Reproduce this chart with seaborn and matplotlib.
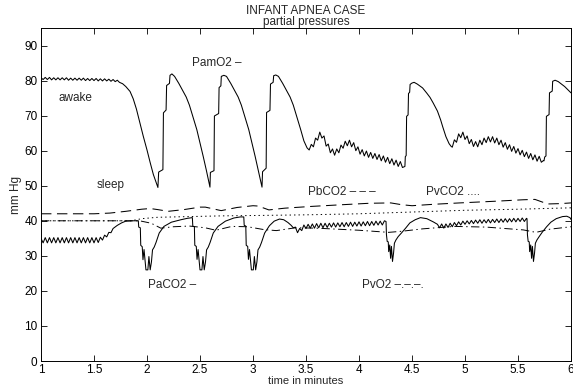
import matplotlib
matplotlib.use("Agg")
import matplotlib.pyplot as plt
import pandas as pd
import seaborn as sns

# ---- data: (time in minutes, pressure in mm Hg) ----
pamo2 = [
    # awake, regular breathing
    (1.00, 80.8), (1.02, 80.3), (1.04, 80.9), (1.06, 80.3), (1.08, 80.9), (1.10, 80.2),
    (1.12, 80.8), (1.14, 80.2), (1.16, 80.8), (1.18, 80.2), (1.20, 80.8), (1.22, 80.2),
    (1.24, 80.8), (1.26, 80.1), (1.28, 80.7), (1.30, 80.1), (1.32, 80.7), (1.34, 80.1),
    (1.36, 80.7), (1.38, 80.1), (1.40, 80.7), (1.42, 80.0), (1.44, 80.6), (1.46, 80.0),
    (1.48, 80.6), (1.50, 80.0), (1.52, 80.6), (1.54, 79.9), (1.56, 80.5), (1.58, 79.9),
    (1.60, 80.5), (1.62, 79.9), (1.64, 80.4), (1.66, 79.8), (1.68, 80.3), (1.70, 79.7),
    (1.72, 80.1), (1.74, 79.5),
    # first apnea
    (1.77, 79.1), (1.80, 78.3), (1.84, 76.9), (1.87, 74.8), (1.90, 71.9), (1.93, 68.3),
    (1.965, 64.1), (2.00, 60.2), (2.03, 56.6), (2.06, 53.2), (2.09, 50.6), (2.103, 49.5),
    (2.110, 53.9), (2.150, 54.6), (2.155, 70.8), (2.180, 71.6), (2.185, 78.6), (2.212, 79.2),
    (2.217, 81.5), (2.235, 81.9),
    (2.26, 81.2), (2.30, 79.2), (2.34, 77.0), (2.37, 75.3), (2.40, 73.0), (2.42, 71.0),
    (2.45, 68.0), (2.47, 66.0), (2.50, 62.2), (2.53, 58.4), (2.56, 54.4), (2.594, 49.6),
    (2.598, 53.8), (2.632, 54.3), (2.636, 69.9), (2.676, 70.6), (2.680, 78.0), (2.697, 78.5),
    (2.701, 81.2), (2.725, 81.5),
    (2.75, 81.2), (2.79, 79.2), (2.83, 77.0), (2.86, 75.3), (2.89, 73.0), (2.91, 71.0),
    (2.94, 68.0), (2.96, 66.0), (2.99, 62.2), (3.02, 58.4), (3.05, 54.4), (3.085, 49.6),
    (3.090, 54.0), (3.124, 55.0), (3.128, 70.9), (3.160, 71.5), (3.165, 79.0), (3.190, 79.5),
    (3.195, 81.4), (3.215, 81.6),
    (3.24, 81.2), (3.28, 79.2), (3.32, 77.0), (3.35, 75.3), (3.38, 73.0), (3.40, 71.0),
    (3.43, 68.0), (3.45, 66.0), (3.48, 62.8), (3.51, 60.8),
    # periodic breathing
    (3.53, 60.2), (3.55, 61.8), (3.57, 61.1), (3.59, 63.6), (3.61, 63.0), (3.63, 65.3),
    (3.65, 63.6), (3.67, 64.2), (3.69, 61.3), (3.71, 61.9), (3.73, 59.4), (3.75, 60.5),
    (3.77, 58.7), (3.79, 60.5), (3.81, 59.4), (3.83, 61.6), (3.85, 60.7), (3.87, 62.7),
    (3.89, 61.4), (3.91, 63.0), (3.93, 61.1), (3.95, 62.3), (3.97, 60.0), (3.99, 61.1),
    (4.01, 59.0), (4.03, 60.3), (4.05, 58.5), (4.07, 59.9), (4.09, 58.1), (4.11, 59.5),
    (4.13, 57.8), (4.15, 59.2), (4.17, 57.5), (4.19, 58.9), (4.21, 57.1), (4.23, 58.5),
    (4.25, 56.7), (4.27, 58.1), (4.29, 56.3), (4.31, 57.7), (4.33, 55.9), (4.35, 57.3),
    (4.37, 55.5), (4.39, 56.9), (4.41, 55.2),
    (4.433, 55.5), (4.437, 58.3), (4.445, 58.6), (4.449, 69.8), (4.463, 70.2), (4.467, 76.3),
    (4.478, 76.7), (4.482, 78.9), (4.50, 79.3), (4.52, 79.5), (4.55, 79.0), (4.60, 77.9),
    (4.64, 76.4), (4.67, 75.2), (4.70, 73.6), (4.74, 71.3), (4.77, 68.8), (4.79, 66.8),
    (4.82, 64.0), (4.85, 62.0), (4.87, 61.2),
    (4.88, 61.0), (4.90, 63.1), (4.92, 62.4), (4.94, 64.8), (4.96, 63.7), (4.98, 65.3),
    (5.00, 63.2), (5.02, 64.2), (5.04, 62.0), (5.06, 63.2), (5.08, 61.2), (5.10, 62.6),
    (5.12, 61.1), (5.14, 63.0), (5.16, 61.7), (5.18, 63.6), (5.20, 62.3), (5.22, 64.0),
    (5.24, 62.5), (5.26, 64.0), (5.28, 62.2), (5.30, 63.6), (5.32, 61.7), (5.34, 63.0),
    (5.36, 61.0), (5.38, 62.3), (5.40, 60.4), (5.42, 61.7), (5.44, 59.8), (5.46, 61.2),
    (5.48, 59.3), (5.50, 60.6), (5.52, 58.8), (5.54, 60.1), (5.56, 58.3), (5.58, 59.6),
    (5.60, 57.8), (5.62, 59.2), (5.64, 57.4), (5.66, 58.8), (5.68, 57.0), (5.70, 58.4),
    (5.72, 56.7), (5.74, 57.2),
    (5.745, 57.1), (5.752, 58.2), (5.764, 58.5), (5.768, 69.8), (5.793, 70.3), (5.797, 76.5),
    (5.823, 77.0), (5.827, 79.8), (5.85, 80.1), (5.88, 79.7), (5.91, 79.0), (5.94, 78.3),
    (5.97, 77.4), (6.00, 76.5),
]

paco2 = [
    (1.00, 35.0), (1.02, 33.7), (1.04, 35.2), (1.06, 33.7), (1.08, 35.2), (1.10, 33.7),
    (1.12, 35.2), (1.14, 33.7), (1.16, 35.2), (1.18, 33.7), (1.20, 35.2), (1.22, 33.7),
    (1.24, 35.2), (1.26, 33.7), (1.28, 35.2), (1.30, 33.7), (1.32, 35.2), (1.34, 33.7),
    (1.36, 35.2), (1.38, 33.7), (1.40, 35.2), (1.42, 33.7), (1.44, 35.2), (1.46, 33.7),
    (1.48, 35.2), (1.50, 33.7), (1.52, 35.2), (1.54, 33.8), (1.56, 35.3), (1.58, 34.5),
    (1.60, 35.9), (1.62, 35.4), (1.64, 36.7), (1.66, 36.6), (1.68, 37.8), (1.72, 38.7),
    (1.76, 39.4), (1.80, 39.9), (1.86, 40.0), (1.918, 40.0),
    (1.922, 38.2), (1.937, 38.0), (1.941, 33.0), (1.955, 32.6), (1.962, 28.9), (1.972, 31.8),
    (1.990, 26.0), (2.008, 26.0), (2.018, 29.8), (2.030, 26.0), (2.042, 28.3), (2.052, 31.7),
    (2.068, 32.5), (2.085, 33.8), (2.115, 36.5), (2.16, 38.4), (2.23, 39.6), (2.32, 40.3),
    (2.38, 40.7), (2.428, 40.9),
    (2.432, 38.5), (2.447, 38.3), (2.451, 33.0), (2.465, 32.7), (2.472, 29.0), (2.482, 31.8),
    (2.500, 26.0), (2.518, 26.0), (2.528, 29.8), (2.540, 26.0), (2.552, 28.3), (2.562, 31.7),
    (2.578, 32.5), (2.595, 33.8), (2.625, 36.5), (2.67, 38.4), (2.74, 39.9), (2.82, 40.8),
    (2.88, 41.1), (2.913, 41.1),
    (2.917, 38.7), (2.932, 38.5), (2.936, 33.0), (2.950, 32.7), (2.957, 29.0), (2.967, 31.8),
    (2.985, 26.0), (3.003, 26.0), (3.013, 29.8), (3.025, 26.0), (3.037, 28.3), (3.047, 31.7),
    (3.063, 32.5), (3.080, 33.8), (3.110, 36.5), (3.155, 38.6), (3.20, 39.9), (3.25, 40.5),
    (3.29, 40.3), (3.33, 39.5), (3.36, 38.7), (3.38, 38.0),
    (3.40, 38.2), (3.42, 36.6), (3.44, 37.8), (3.46, 37.2), (3.48, 38.8), (3.50, 37.8),
    (3.52, 39.0), (3.54, 37.9), (3.56, 39.1), (3.58, 37.9), (3.60, 39.2), (3.62, 38.0),
    (3.64, 39.3), (3.66, 38.0), (3.68, 39.3), (3.70, 38.1), (3.72, 39.3), (3.74, 38.2),
    (3.76, 39.4), (3.78, 38.2), (3.80, 39.4), (3.82, 38.3), (3.84, 39.5), (3.86, 38.3),
    (3.88, 39.5), (3.90, 38.4), (3.92, 39.6), (3.94, 38.4), (3.96, 39.6), (3.98, 38.5),
    (4.00, 39.7), (4.02, 38.5), (4.04, 39.7), (4.06, 38.6), (4.08, 39.8), (4.10, 38.6),
    (4.12, 39.8), (4.14, 38.7), (4.16, 39.9), (4.18, 38.8), (4.20, 39.9), (4.22, 38.8),
    (4.24, 40.0), (4.255, 39.8),
    (4.259, 36.0), (4.266, 34.1), (4.276, 34.0), (4.280, 31.2), (4.290, 33.1), (4.298, 29.3),
    (4.306, 32.7), (4.316, 28.4), (4.326, 30.8), (4.334, 33.6), (4.348, 34.5), (4.37, 35.5),
    (4.40, 36.5), (4.44, 37.9), (4.48, 39.4), (4.53, 40.3), (4.58, 40.9), (4.64, 40.6),
    (4.70, 39.7), (4.74, 39.0),
    (4.76, 38.0), (4.78, 39.1), (4.80, 37.9), (4.82, 39.1), (4.84, 38.1), (4.86, 39.3),
    (4.88, 38.3), (4.90, 39.5), (4.92, 38.6), (4.94, 39.7), (4.96, 38.8), (4.98, 39.9),
    (5.00, 39.0), (5.02, 40.0), (5.04, 39.1), (5.06, 40.1), (5.08, 39.2), (5.10, 40.2),
    (5.12, 39.3), (5.14, 40.3), (5.16, 39.3), (5.18, 40.3), (5.20, 39.4), (5.22, 40.4),
    (5.24, 39.4), (5.26, 40.4), (5.28, 39.5), (5.30, 40.5), (5.32, 39.5), (5.34, 40.5),
    (5.36, 39.6), (5.38, 40.6), (5.40, 39.6), (5.42, 40.6), (5.44, 39.7), (5.46, 40.7),
    (5.48, 39.7), (5.50, 40.7), (5.52, 39.8), (5.54, 40.8), (5.56, 39.8), (5.58, 40.7),
    (5.585, 40.6),
    (5.589, 36.0), (5.596, 34.1), (5.606, 34.0), (5.610, 31.2), (5.620, 33.1), (5.628, 29.3),
    (5.636, 32.7), (5.646, 28.4), (5.656, 30.8), (5.664, 33.6), (5.678, 34.5), (5.70, 35.5),
    (5.73, 36.8), (5.77, 38.3), (5.81, 39.6), (5.86, 40.6), (5.92, 41.2), (5.96, 41.3),
    (5.99, 40.9), (6.00, 40.4),
]

pbco2 = [
    (1.00, 42.0), (1.50, 42.0), (1.65, 42.2), (1.80, 42.7), (1.95, 43.3), (2.03, 43.5),
    (2.10, 43.2), (2.20, 42.7), (2.35, 43.2), (2.50, 43.9), (2.55, 43.9), (2.70, 42.9),
    (2.85, 43.8), (3.00, 44.3), (3.05, 44.2), (3.15, 43.1), (3.30, 43.6), (3.55, 44.1),
    (3.85, 44.6), (4.10, 45.0), (4.30, 45.1), (4.40, 44.6), (4.50, 44.3), (4.70, 44.7),
    (4.95, 45.1), (5.30, 45.6), (5.55, 46.0), (5.66, 46.1), (5.78, 44.8), (5.90, 44.9),
    (6.00, 45.1),
]

pvco2 = [
    (1.00, 40.0), (1.85, 40.0), (1.95, 40.6), (2.10, 41.0), (2.40, 41.2), (2.70, 41.4),
    (3.00, 41.5), (3.50, 41.7), (4.00, 42.0), (4.50, 42.5), (5.00, 43.0), (5.50, 43.3),
    (6.00, 43.7),
]

pvo2 = [
    (1.00, 40.0), (1.93, 40.0), (2.04, 39.3), (2.13, 37.9), (2.25, 38.3), (2.40, 38.5),
    (2.55, 38.0), (2.65, 37.3), (2.80, 38.4), (2.95, 38.3), (3.10, 37.5), (3.22, 37.2),
    (3.40, 38.0), (3.60, 37.9), (4.00, 37.3), (4.28, 36.7), (4.40, 37.0), (4.60, 37.7),
    (4.90, 38.4), (5.20, 38.2), (5.55, 37.4), (5.67, 36.7), (5.80, 37.6), (6.00, 38.3),
]

x_ticks = [1, 1.5, 2, 2.5, 3, 3.5, 4, 4.5, 5, 5.5, 6]
x_tick_labels = ["1", "1.5", "2", "2.5", "3", "3.5", "4", "4.5", "5", "5.5", "6"]
y_ticks = [0, 10, 20, 30, 40, 50, 60, 70, 80, 90]

annotations = [
    ("PamO2 \u2013", 2.42, 85.0),
    ("awake", 1.163, 75.1),
    ("sleep", 1.525, 50.3),
    ("PbCO2 \u2013 \u2013 \u2013", 3.52, 48.3),
    ("PvCO2 ....", 4.63, 48.3),
    ("PaCO2 \u2013", 2.01, 21.7),
    ("PvO2 \u2013.\u2013.\u2013.", 4.025, 21.7),
]

# ---- styling ----
sns.set_style("ticks")
plt.rcParams["font.family"] = ["Liberation Sans", "DejaVu Sans"]
plt.rcParams["lines.scale_dashes"] = False
FS = 8.5

fig = plt.figure(figsize=(5.73, 3.87), dpi=100)
ax = fig.add_axes([41 / 573, 26 / 387, 530 / 573, 333 / 387])


def frame(pairs):
    return pd.DataFrame(pairs, columns=["t", "p"])


line_kw = dict(x="t", y="p", ax=ax, color="black", sort=False, estimator=None,
               legend=False)
sns.lineplot(data=frame(pvco2), linewidth=0.7, linestyle=(0, (1.0, 2.2)), **line_kw)
sns.lineplot(data=frame(pvo2), linewidth=0.7, linestyle=(0, (6, 2.5, 1, 2.5)), **line_kw)
sns.lineplot(data=frame(pbco2), linewidth=0.75, linestyle=(0, (7.5, 4)), **line_kw)
sns.lineplot(data=frame(paco2), linewidth=0.75, **line_kw)
sns.lineplot(data=frame(pamo2), linewidth=0.75, **line_kw)

for text, tx, ty in annotations:
    ax.text(tx, ty, text, fontsize=FS, ha="left", va="center")

ax.set_xlim(1, 6)
ax.set_ylim(0, 95)
ax.set_xticks(x_ticks)
ax.set_xticklabels(x_tick_labels)
ax.set_yticks(y_ticks)
ax.tick_params(direction="in", top=True, right=True, length=4, width=0.6,
               labelsize=FS, pad=2.5, colors="black")
for spine in ax.spines.values():
    spine.set_visible(True)
    spine.set_linewidth(0.7)
    spine.set_color("black")

ax.set_xlabel("")
ax.set_ylabel("mm Hg", fontsize=FS, labelpad=2)
fig.text(306 / 573, 1.5 / 387, "time in minutes", fontsize=8,
         ha="center", va="bottom")

fig.text(306 / 573, 1 - 10.5 / 387, "INFANT APNEA CASE", fontsize=FS,
         ha="center", va="center")
fig.text(306 / 573, 1 - 22.5 / 387, "partial pressures", fontsize=FS,
         ha="center", va="center")

fig.savefig("out.png", dpi=100)
